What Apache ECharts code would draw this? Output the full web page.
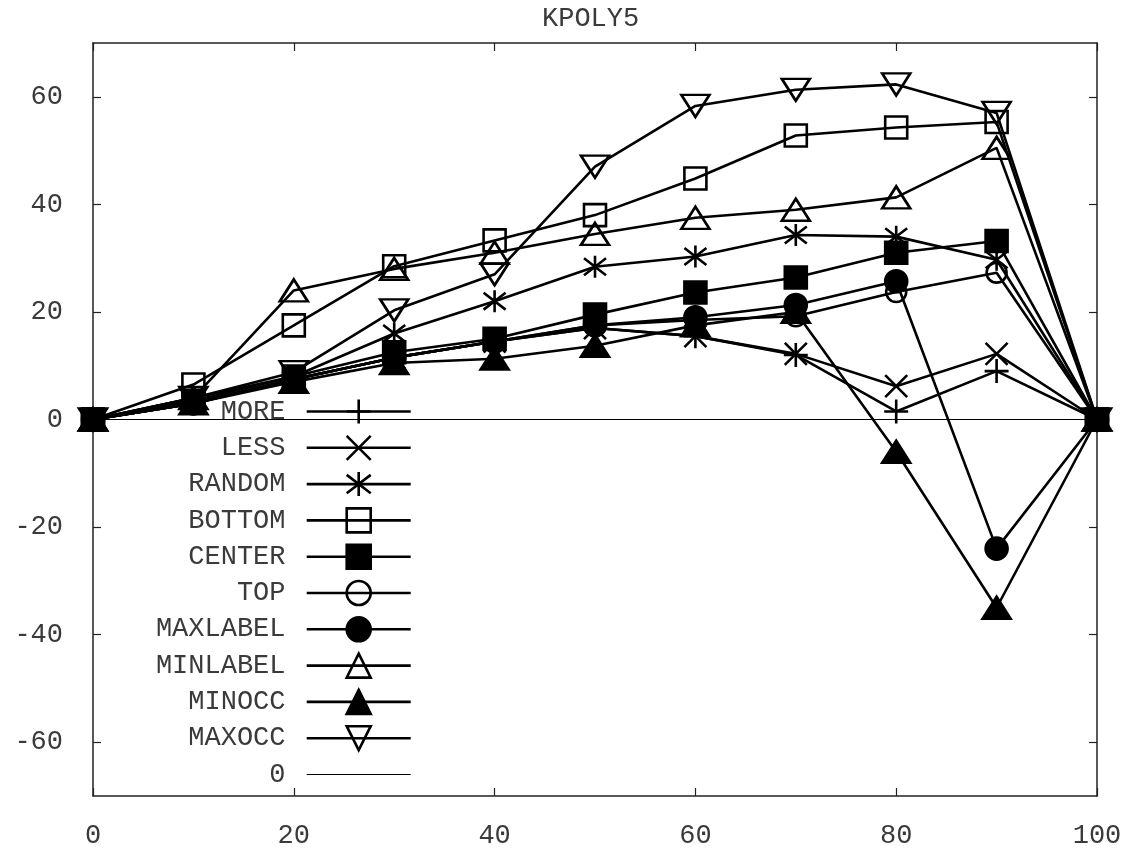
<!DOCTYPE html>
<html>
<head>
<meta charset="utf-8">
<script src="https://cdn.jsdelivr.net/npm/echarts@6/dist/echarts.min.js"></script>
<style>html,body{margin:0;padding:0;background:#fff}#c{width:1139px;height:849px}</style>
</head>
<body>
<div id="c"></div>
<script>
const xValues = [0, 10, 20, 30, 40, 50, 60, 70, 80, 90, 100];
const xTicks = [0, 20, 40, 60, 80, 100];
const yTicks = [-60, -40, -20, 0, 20, 40, 60];
const titleText = 'KPOLY5';

const MORE     = [0, 3,   7.5, 11.5, 14.5, 17,   15.5, 12,   1.5,  9,    0];
const LESS     = [0, 3,   7.5, 11.5, 14.5, 17,   15.5, 12.2, 6.2,  12.2, 0];
const RANDOM   = [0, 4,   8,   16,   22,   28.4, 30.3, 34.3, 34,   29.7, 0];
const BOTTOM   = [0, 6.5, 17.5, 28.5, 33.3, 38,  44.8, 52.8, 54.3, 55.3, 0];
const CENTER   = [0, 3.5, 8,   12.5, 15,   19.5, 23.6, 26.4, 31,   33.2, 0];
const TOP      = [0, 3,   7.5, 11.5, 14.5, 17.5, 18.5, 19.2, 23.7, 27.3, 0];
const MAXLABEL = [0, 3,   7.5, 11.5, 14.5, 17.5, 19,   21.3, 25.7, -24,  0];
const MINLABEL = [0, 4,   24,  28,   31,   34.5, 37.5, 39,   41.3, 50.5, 0];
const MINOCC   = [0, 3,   7,   10.5, 11.3, 13.7, 17.5, 20,   -6,   -35,  0];
const MAXOCC   = [0, 4,   8.8, 20.3, 27,   47,   58.3, 61.3, 62.3, 57,   0];
const ZERO     = [0, 0,   0,   0,    0,    0,    0,    0,    0,    0,    0];

const seriesNames = ['MORE','LESS','RANDOM','BOTTOM','CENTER','TOP','MAXLABEL','MINLABEL','MINOCC','MAXOCC','0'];
const seriesValues = [MORE, LESS, RANDOM, BOTTOM, CENTER, TOP, MAXLABEL, MINLABEL, MINOCC, MAXOCC, ZERO];

const FONT = "'Courier New','Liberation Mono',monospace";
const TXT = '#3a3a3a';
const CLEAR = 'rgba(0,0,0,0)';
const LW = 2.6;

const PLUS = 'path://M5,0L5,10M0,5L10,5';
const CROSS = 'path://M0,0L10,10M10,0L0,10';
const STAR = 'path://M0,0L10,10M10,0L0,10M5,-1.5L5,11.5';

const markerStyles = [
  {symbol: PLUS,  size: 24, fill: CLEAR},
  {symbol: CROSS, size: 22, fill: CLEAR},
  {symbol: STAR,  size: 22, fill: CLEAR},
  {symbol: 'rect', size: 22, fill: CLEAR},
  {symbol: 'rect', size: 22, fill: '#000'},
  {symbol: 'circle', size: 20, fill: CLEAR},
  {symbol: 'circle', size: 22, fill: '#000'},
  {symbol: 'triangle', size: [28, 22], fill: CLEAR},
  {symbol: 'triangle', size: [28, 22], fill: '#000'},
  {symbol: 'triangle', size: [28, 22], fill: CLEAR, rotate: 180},
  {symbol: 'circle', size: 0, fill: CLEAR, none: true}
];

const series = seriesNames.map((name, i) => {
  const m = markerStyles[i];
  const vals = seriesValues[i];
  return {
    name: name,
    type: 'line',
    xAxisIndex: 0,
    yAxisIndex: 0,
    data: xValues.map((x, j) => [x, vals[j]]),
    symbol: m.symbol,
    symbolSize: m.size,
    symbolRotate: m.rotate || 0,
    showSymbol: !m.none,
    showAllSymbol: true,
    animation: false,
    lineStyle: {color: '#000', width: m.none ? 1.2 : LW},
    itemStyle: {color: m.fill, borderColor: m.none ? CLEAR : '#000', borderWidth: m.none ? 0 : LW},
    emphasis: {disabled: true},
    z: 2 + i
  };
});

const legendData = seriesNames.map((name, i) => ({
  name: name,
  lineStyle: {width: markerStyles[i].none ? 1.2 : LW, color: '#000'},
  itemStyle: markerStyles[i].none ? {color: CLEAR, borderColor: CLEAR, borderWidth: 0} : {borderWidth: LW, borderColor: '#000'}
}));

const axisBase = {
  type: 'value',
  axisLine: {show: true, onZero: false, lineStyle: {color: '#222', width: 1.5}},
  axisTick: {show: true, inside: true, length: 8, lineStyle: {color: '#222', width: 1.2}},
  splitLine: {show: false}
};

const option = {
  backgroundColor: '#fff',
  animation: false,
  title: {
    text: titleText,
    left: 542,
    top: 5,
    padding: 0,
    textStyle: {fontFamily: FONT, fontSize: 27, fontWeight: 'normal', color: TXT}
  },
  grid: {left: 93, right: 42, top: 43, bottom: 49, containLabel: false},
  legend: {
    orient: 'vertical',
    align: 'right',
    right: 727,
    top: 398,
    padding: 0,
    itemWidth: 104,
    itemHeight: 30,
    itemGap: 9.3,
    selectedMode: false,
    formatter: (n) => n + ' ',
    textStyle: {fontFamily: FONT, fontSize: 27, color: TXT},
    data: legendData
  },
  xAxis: [
    Object.assign({}, axisBase, {
      position: 'bottom', min: 0, max: 100, interval: 20,
      axisLabel: {show: true, margin: 26, fontFamily: FONT, fontSize: 27, color: TXT, customValues: xTicks},
      axisTick: Object.assign({}, axisBase.axisTick, {customValues: xTicks})
    }),
    Object.assign({}, axisBase, {
      position: 'top', min: 0, max: 100, interval: 20,
      axisLabel: {show: false},
      axisTick: Object.assign({}, axisBase.axisTick, {customValues: xTicks})
    })
  ],
  yAxis: [
    Object.assign({}, axisBase, {
      position: 'left', min: -70, max: 70,
      axisLabel: {show: true, margin: 30, fontFamily: FONT, fontSize: 27, color: TXT, customValues: yTicks},
      axisTick: Object.assign({}, axisBase.axisTick, {customValues: yTicks})
    }),
    Object.assign({}, axisBase, {
      position: 'right', min: -70, max: 70,
      axisLabel: {show: false},
      axisTick: Object.assign({}, axisBase.axisTick, {customValues: yTicks})
    })
  ],
  series: series
};

const chart = echarts.init(document.getElementById('c'), null, {renderer: 'canvas'});
chart.setOption(option);
</script>
</body>
</html>
